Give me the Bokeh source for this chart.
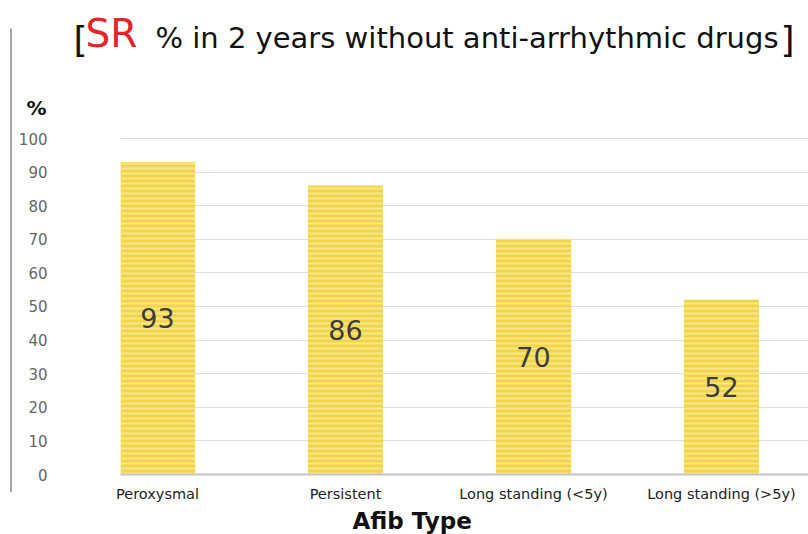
from bokeh.plotting import figure
from bokeh.layouts import column, row
from bokeh.models import ColumnDataSource, FixedTicker, Range1d, LabelSet, Title, Div
from bokeh.core.properties import value
from bokeh.embed import file_html
from bokeh.resources import INLINE

categories = ["Peroxysmal", "Persistent", "Long standing (<5y)", "Long standing (>5y)"]
values = [93, 86, 70, 52]
y_ticks = [0, 10, 20, 30, 40, 50, 60, 70, 80, 90, 100]

FONT = "DejaVu Sans"
BORDER = "#a6a6a6"

def blank(width, height, xr, yr):
    f = figure(width=width, height=height, output_backend="svg", toolbar_location=None,
               x_range=xr, y_range=yr, x_axis_location=None, y_axis_location=None,
               min_border=0, min_border_left=0, min_border_right=0,
               min_border_top=0, min_border_bottom=0)
    f.grid.visible = False
    f.outline_line_color = None
    return f

# ---- header strip (page pixels: x 0..808, y 0..130, y grows downward)
top = blank(808, 130, Range1d(0, 808), Range1d(130, 0))
top.segment(x0=[10.5], y0=[28], x1=[10.5], y1=[130], line_color=BORDER, line_width=2)

def ttext(f, x, y, s, size, color="#111111", style="normal"):
    f.text(x=[x], y=[y], text=[s], text_font=value(FONT), text_font_size=size,
           text_color=color, text_font_style=style, text_baseline="alphabetic",
           text_align="left")

ttext(top, 73, 39, "[", "36px")
ttext(top, 85, 32.5, "SR", "39px", color="#E2242B")
ttext(top, 155, 37.5, "% in 2 years without anti-arrhythmic drugs", "29px")
ttext(top, 780, 39, "]", "36px")
ttext(top, 26, 107, "%", "20px", style="bold")

# ---- left border strip (page y 130..534)
strip = Div(width=12, height=404, margin=(0, 0, 0, 0),
            text='<div style="position:absolute;left:9.5px;top:0px;width:2px;'
                 'height:362px;background:%s"></div>' % BORDER)

# ---- main chart
xs = list(range(len(categories)))
src = ColumnDataSource(dict(x=xs, top=values, mid=[v / 2 for v in values],
                            lab=[str(v) for v in values]))

p = figure(width=796, height=404, output_backend="svg", toolbar_location=None,
           x_range=Range1d(-0.197, 3.463), y_range=Range1d(0, 102.38),
           min_border_left=108, min_border_right=0, min_border_top=0, min_border_bottom=60)
p.outline_line_color = None

p.vbar(x="x", top="top", width=0.4, source=src, fill_color="#F2D447", line_color=None,
       hatch_pattern="-", hatch_color="#F9E78C", hatch_scale=5, hatch_weight=2)

p.add_layout(LabelSet(x="x", y="mid", text="lab", source=src, text_align="center",
                      text_baseline="middle", text_font_size="27px", text_color="#3c3c3c",
                      text_font=value(FONT)))

p.xgrid.visible = False
p.ygrid.ticker = FixedTicker(ticks=y_ticks)
p.ygrid.grid_line_color = "#dedede"
p.ygrid.grid_line_width = 1

p.yaxis.ticker = FixedTicker(ticks=y_ticks)
p.yaxis.axis_line_color = None
p.yaxis.major_tick_line_color = None
p.yaxis.minor_tick_line_color = None
p.yaxis.major_label_text_font = FONT
p.yaxis.major_label_text_font_size = "15px"
p.yaxis.major_label_text_color = "#666666"
p.yaxis.major_label_standoff = 67

p.xaxis.ticker = FixedTicker(ticks=xs)
p.xaxis.major_label_overrides = {i: c for i, c in enumerate(categories)}
p.xaxis.axis_line_color = "#c4c4c4"
p.xaxis.axis_line_width = 2
p.xaxis.major_tick_line_color = None
p.xaxis.minor_tick_line_color = None
p.xaxis.major_label_text_font = FONT
p.xaxis.major_label_text_font_size = "14.5px"
p.xaxis.major_label_text_color = "#222222"
p.xaxis.major_label_standoff = 5

p.add_layout(Title(text="Afib Type", align="left", offset=232, standoff=2,
                   text_font=FONT, text_font_size="23px", text_font_style="bold",
                   text_color="#111111"), "below")

layout = column(top, row(strip, p, spacing=0), spacing=0)
open("out.html", "w").write(file_html(layout, INLINE))
